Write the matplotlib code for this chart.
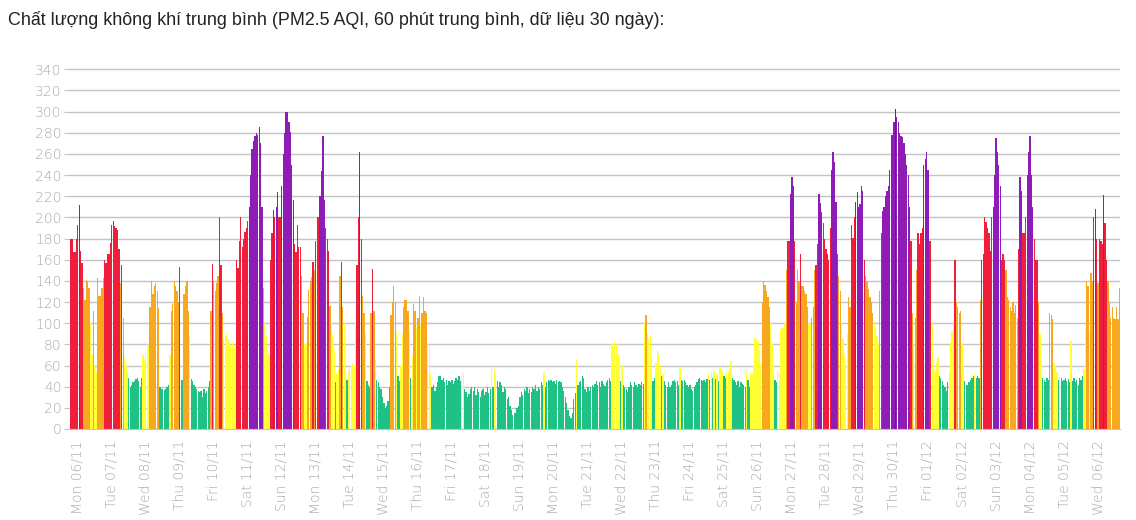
import matplotlib
matplotlib.use('Agg')
import matplotlib.pyplot as plt

# AQI theo gio, bat dau 05/11 19:00 (5 gio dau), moi dong 1 ngay
aqi_hourly = [
    180, 180, 167, 167, 180,
    193, 212, 168, 157, 133, 122, 141, 140, 133, 100, 70, 112, 60, 55, 143, 126, 126, 133, 143, 160, 157, 165, 165, 176,
    193, 197, 192, 190, 188, 170, 138, 155, 105, 68, 60, 55, 48, 40, 42, 44, 45, 47, 48, 45, 40, 48, 70, 65,
    72, 80, 79, 115, 140, 128, 135, 138, 130, 114, 40, 38, 38, 37, 38, 40, 42, 70, 112, 118, 140, 135, 130, 120,
    153, 46, 46, 128, 135, 140, 112, 88, 47, 45, 42, 40, 38, 36, 35, 36, 30, 38, 34, 36, 40, 45, 112, 156,
    140, 130, 138, 145, 200, 155, 110, 85, 88, 90, 85, 82, 78, 80, 76, 78, 160, 152, 178, 200, 172, 180, 186, 190,
    197, 210, 240, 265, 272, 277, 280, 278, 285, 270, 210, 133, 100, 88, 75, 70, 160, 185, 207, 200, 210, 224, 200, 200,
    230, 260, 280, 300, 300, 290, 281, 250, 216, 175, 167, 193, 172, 172, 145, 110, 80, 80, 106, 131, 140, 144, 158, 150,
    178, 200, 200, 220, 244, 277, 216, 190, 180, 168, 116, 100, 90, 76, 44, 52, 56, 145, 158, 115, 100, 56, 46, 55,
    58, 60, 62, 60, 100, 155, 200, 262, 180, 126, 110, 90, 45, 42, 40, 110, 151, 112, 65, 46, 44, 40, 38, 30,
    25, 20, 22, 26, 40, 108, 120, 135, 120, 92, 50, 45, 60, 90, 115, 122, 122, 112, 92, 48, 70, 118, 112, 95,
    105, 126, 100, 110, 125, 112, 110, 80, 78, 52, 40, 42, 36, 40, 44, 50, 50, 46, 48, 44, 46, 42, 45, 44,
    46, 43, 45, 48, 46, 50, 45, 52, 54, 38, 35, 30, 33, 38, 40, 36, 40, 32, 38, 35, 30, 36, 38, 32,
    35, 40, 34, 38, 58, 40, 57, 52, 45, 40, 44, 42, 35, 40, 38, 28, 30, 22, 18, 13, 15, 15, 20, 22,
    30, 35, 32, 38, 36, 40, 34, 38, 35, 40, 38, 42, 36, 40, 38, 44, 42, 53, 40, 44, 46, 45, 46, 44,
    45, 43, 46, 44, 45, 44, 40, 36, 30, 25, 18, 12, 10, 15, 28, 34, 65, 42, 44, 45, 50, 48, 38, 35,
    40, 36, 40, 42, 40, 43, 45, 42, 44, 40, 45, 43, 41, 44, 46, 48, 45, 80, 75, 82, 78, 80, 70, 45,
    60, 42, 40, 38, 35, 40, 44, 42, 40, 44, 42, 40, 43, 42, 44, 43, 100, 108, 90, 85, 88, 70, 45, 48,
    62, 75, 72, 60, 50, 52, 45, 42, 40, 44, 40, 42, 45, 46, 44, 45, 42, 58, 46, 45, 46, 44, 42, 40,
    42, 38, 36, 40, 42, 44, 47, 48, 46, 45, 46, 44, 47, 52, 46, 54, 48, 55, 47, 52, 45, 58, 58, 55,
    50, 48, 52, 55, 58, 64, 48, 46, 44, 42, 45, 40, 44, 43, 42, 40, 55, 46, 40, 52, 52, 60, 86, 84,
    82, 75, 62, 120, 140, 136, 130, 125, 115, 100, 80, 55, 46, 44, 55, 52, 94, 95, 95, 100, 150, 178, 178, 222,
    238, 230, 178, 120, 150, 140, 165, 135, 135, 130, 128, 115, 100, 100, 105, 115, 150, 155, 175, 222, 214, 205, 195, 180,
    170, 165, 160, 190, 245, 262, 252, 215, 165, 145, 130, 100, 85, 70, 60, 90, 125, 115, 193, 181, 200, 215, 224, 210,
    213, 230, 225, 160, 145, 140, 132, 125, 120, 110, 100, 95, 88, 80, 130, 185, 206, 210, 220, 225, 230, 245, 278, 278,
    290, 302, 295, 290, 280, 277, 276, 270, 260, 250, 240, 210, 178, 110, 80, 105, 150, 185, 175, 185, 190, 250, 255, 262,
    245, 178, 178, 100, 65, 55, 62, 68, 50, 48, 45, 42, 40, 36, 44, 55, 82, 92, 100, 160, 120, 115, 110, 112,
    80, 60, 45, 42, 42, 44, 46, 48, 50, 52, 48, 50, 48, 122, 160, 165, 200, 196, 190, 185, 168, 200, 210, 240,
    275, 262, 250, 230, 160, 165, 160, 150, 125, 122, 115, 112, 120, 110, 117, 105, 170, 238, 225, 185, 185, 200, 240, 262,
    277, 240, 210, 180, 160, 160, 120, 90, 65, 48, 46, 44, 48, 46, 110, 108, 104, 62, 60, 54, 46, 52, 48, 45,
    46, 48, 45, 47, 44, 83, 45, 48, 44, 46, 42, 48, 46, 50, 57, 95, 140, 135, 92, 147, 140, 200, 208, 180,
    138, 180, 178, 175, 221, 195, 160, 140, 120, 105, 115, 105, 104, 115, 104, 133,
]

first_midnight = 5  # vi tri gio 00:00 ngay 06/11
day_labels = ['Mon 06/11', 'Tue 07/11', 'Wed 08/11', 'Thu 09/11', 'Fri 10/11', 'Sat 11/11',
              'Sun 12/11', 'Mon 13/11', 'Tue 14/11', 'Wed 15/11', 'Thu 16/11', 'Fri 17/11',
              'Sat 18/11', 'Sun 19/11', 'Mon 20/11', 'Tue 21/11', 'Wed 22/11', 'Thu 23/11',
              'Fri 24/11', 'Sat 25/11', 'Sun 26/11', 'Mon 27/11', 'Tue 28/11', 'Wed 29/11',
              'Thu 30/11', 'Fri 01/12', 'Sat 02/12', 'Sun 03/12', 'Mon 04/12', 'Tue 05/12',
              'Wed 06/12']

# nguong AQI va mau
aqi_limits = [50, 100, 150, 200, 300]
aqi_colors = ['#1fc184', '#ffff33', '#f8a81f', '#ef1f3c', '#8d1db6', '#8b1a3b']


def color_for(v):
    for lim, c in zip(aqi_limits, aqi_colors):
        if v <= lim:
            return c
    return aqi_colors[-1]


x = list(range(len(aqi_hourly)))
colors = [color_for(v) for v in aqi_hourly]

fig = plt.figure(figsize=(11.36, 5.2), dpi=100)
ax = fig.add_axes([70 / 1136, 91 / 520, 1050 / 1136, 365 / 520])

ax.bar(x, aqi_hourly, width=0.9, color=colors, linewidth=0, zorder=2)

ax.set_xlim(-0.5, len(aqi_hourly) - 0.5)
ax.set_ylim(0, 345)
ax.set_yticks(range(0, 341, 20))
ax.yaxis.grid(True, color='#c4c4c4', linewidth=1, zorder=0)
ax.tick_params(axis='y', length=4, color='#c4c4c4', labelcolor='#a8a8a8', labelsize=10, pad=2)

ticks = [first_midnight + 24 * k for k in range(len(day_labels))]
ax.set_xticks(ticks)
ax.set_xticklabels(day_labels, rotation=90, color='#a8a8a8', fontsize=10, fontweight='light')
ax.tick_params(axis='x', length=0, pad=8)

for s in ['top', 'right', 'left']:
    ax.spines[s].set_visible(False)
ax.spines['bottom'].set_color('#c4c4c4')

for lbl in ax.get_yticklabels():
    lbl.set_fontweight('light')

fig.text(8 / 1136, 1 - 20 / 520,
         'Chất lượng không khí trung bình (PM2.5 AQI, 60 phút trung bình, dữ liệu 30 ngày):',
         fontsize=12.9, family='Liberation Sans', color='#222222', va='center', ha='left')

fig.savefig('out.png', dpi=100)
plt.close(fig)
